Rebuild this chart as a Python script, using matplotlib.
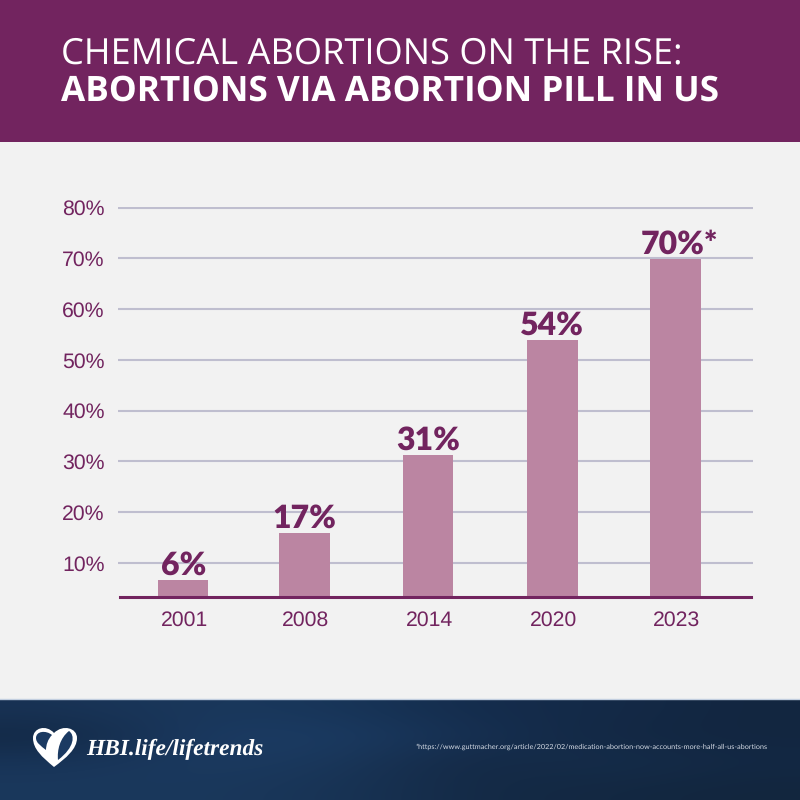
import numpy as np
import matplotlib.pyplot as plt
from matplotlib.patches import PathPatch, Rectangle
from matplotlib.path import Path
from matplotlib.transforms import ScaledTranslation

years = ['2001', '2008', '2014', '2020', '2023']
bar_heights = [6.6, 15.9, 31.3, 53.9, 69.8]
bar_labels = ['6%', '17%', '31%', '54%', '70%*']
y_ticks = [10, 20, 30, 40, 50, 60, 70, 80]

purple = '#72245f'
bar_color = '#bb85a2'
grid_color = '#bfbecf'

plt.rcParams['font.family'] = ['Lato', 'DejaVu Sans']
plt.rcParams['text.hinting'] = 'none'

fig = plt.figure(figsize=(8, 8), dpi=100, facecolor='#f2f2f2')

# page furniture in pixel coordinates
bg = fig.add_axes([0, 0, 1, 1])
bg.set_xlim(0, 800)
bg.set_ylim(800, 0)
bg.axis('off')

bg.add_patch(Rectangle((0, 0), 800, 142, color=purple, lw=0))
bg.text(61, 63.5, 'CHEMICAL ABORTIONS ON THE RISE:', color='white', fontsize=26.15,
        family='Open Sans', va='baseline', ha='left')
bg.text(61, 100.5, 'ABORTIONS VIA ABORTION PILL IN US', color='white', fontsize=25.25,
        family='Open Sans', fontweight='bold', va='baseline', ha='left')

# footer background, soft navy blotches
shade = np.array([
    [[24, 50, 84], [26, 56, 92], [24, 54, 90], [20, 44, 76], [20, 42, 72], [18, 38, 64]],
    [[18, 40, 68], [27, 58, 98], [27, 60, 100], [22, 48, 82], [19, 40, 68], [18, 38, 64]],
    [[24, 52, 88], [27, 58, 96], [26, 56, 92], [20, 40, 68], [21, 46, 76], [19, 40, 68]],
    [[26, 56, 92], [26, 56, 92], [24, 52, 86], [20, 42, 70], [19, 40, 66], [18, 38, 62]],
], dtype=float) / 255
bg.imshow(shade, extent=(0, 800, 800, 699), aspect='auto', interpolation='bicubic', zorder=1)
bg.set_xlim(0, 800)
bg.set_ylim(800, 0)
bg.plot([0, 800], [698.5, 698.5], color='#c3cfe0', lw=1, zorder=2)

# heart logo
heart = Path(
    [(54, 767), (42, 757), (33, 749), (33, 738), (33, 728), (46, 724), (54, 733),
     (63, 724), (77, 728), (77, 738), (77, 749), (66, 758), (54, 767), (54, 767)],
    [Path.MOVETO, Path.CURVE4, Path.CURVE4, Path.CURVE4, Path.CURVE4, Path.CURVE4, Path.CURVE4,
     Path.CURVE4, Path.CURVE4, Path.CURVE4, Path.CURVE4, Path.CURVE4, Path.CURVE4, Path.CLOSEPOLY])
bg.add_patch(PathPatch(heart, fc='white', ec='none', zorder=3))
left_hole = Path(
    [(36, 738), (36, 731), (46, 730), (52, 735), (48, 739), (46, 745), (46, 750),
     (41, 746), (36, 743), (36, 738), (36, 738)],
    [Path.MOVETO, Path.CURVE4, Path.CURVE4, Path.CURVE4, Path.CURVE4, Path.CURVE4, Path.CURVE4,
     Path.CURVE4, Path.CURVE4, Path.CURVE4, Path.CLOSEPOLY])
bg.add_patch(PathPatch(left_hole, fc='#1b3a62', ec='none', zorder=4))
right_hole = Path(
    [(69, 731), (75, 735), (75, 747), (58, 760), (57, 750), (60, 738), (69, 731), (69, 731)],
    [Path.MOVETO, Path.CURVE4, Path.CURVE4, Path.CURVE4, Path.CURVE4, Path.CURVE4, Path.CURVE4,
     Path.CLOSEPOLY])
bg.add_patch(PathPatch(right_hole, fc='#1b3a62', ec='none', zorder=4))

bg.text(86, 749.5, 'HBI.life/lifetrends', color='white', fontsize=16.8, family='Liberation Serif',
        style='italic', fontweight='bold', va='center', ha='left', zorder=5)
bg.text(416, 747, '*https://www.guttmacher.org/article/2022/02/medication-abortion-now-accounts-more-half-all-us-abortions',
        color='#d5dbe5', fontsize=5.24, va='center', ha='left', zorder=5)

# chart axes, 118-753 px across, 3.3-80 % over 597-207 px
ax = fig.add_axes([118 / 800, 1 - 597 / 800, 635 / 800, 390 / 800], facecolor='none')
x = np.array([0, 0.985, 1.99, 3, 4])
ax.bar(x, bar_heights, width=0.41, bottom=0, color=bar_color, zorder=2)
ax.set_xlim(-0.53, 4.63)
ax.set_ylim(3.3, 80.1)

ax.set_yticks(y_ticks)
ax.set_yticklabels([str(v) + '%' for v in y_ticks])
ax.set_xticks(x)
ax.set_xticklabels(years)
ax.yaxis.grid(True, color=grid_color, lw=1.5, zorder=1)
ax.set_axisbelow(True)
ax.tick_params(axis='both', length=0, labelcolor=purple, labelsize=15.3)
ax.tick_params(axis='x', pad=9.5)
ax.tick_params(axis='y', pad=9.5)
for lab in ax.get_xticklabels() + ax.get_yticklabels():
    lab.set_family('Liberation Sans')
# year labels sit a little right of the bars
nudge = ScaledTranslation(1.5 / 100, 0, fig.dpi_scale_trans)
for lab in ax.get_xticklabels():
    lab.set_transform(lab.get_transform() + nudge)
for side in ['top', 'left', 'right']:
    ax.spines[side].set_visible(False)
ax.spines['bottom'].set_color(purple)
ax.spines['bottom'].set_linewidth(2.2)
ax.spines['bottom'].set_zorder(3)
ax.spines['bottom'].set_bounds(-0.515, 4.615)

for i in range(len(x)):
    # the asterisk label is centred on the digits rather than the whole string
    shift = 0.03 if bar_labels[i].endswith('*') else 0
    ax.text(x[i] + shift, bar_heights[i] + 1.1, bar_labels[i], color=purple, fontsize=23,
            fontweight='heavy', ha='center', va='baseline', zorder=4)

fig.savefig('out.png', dpi=100, facecolor=fig.get_facecolor())
